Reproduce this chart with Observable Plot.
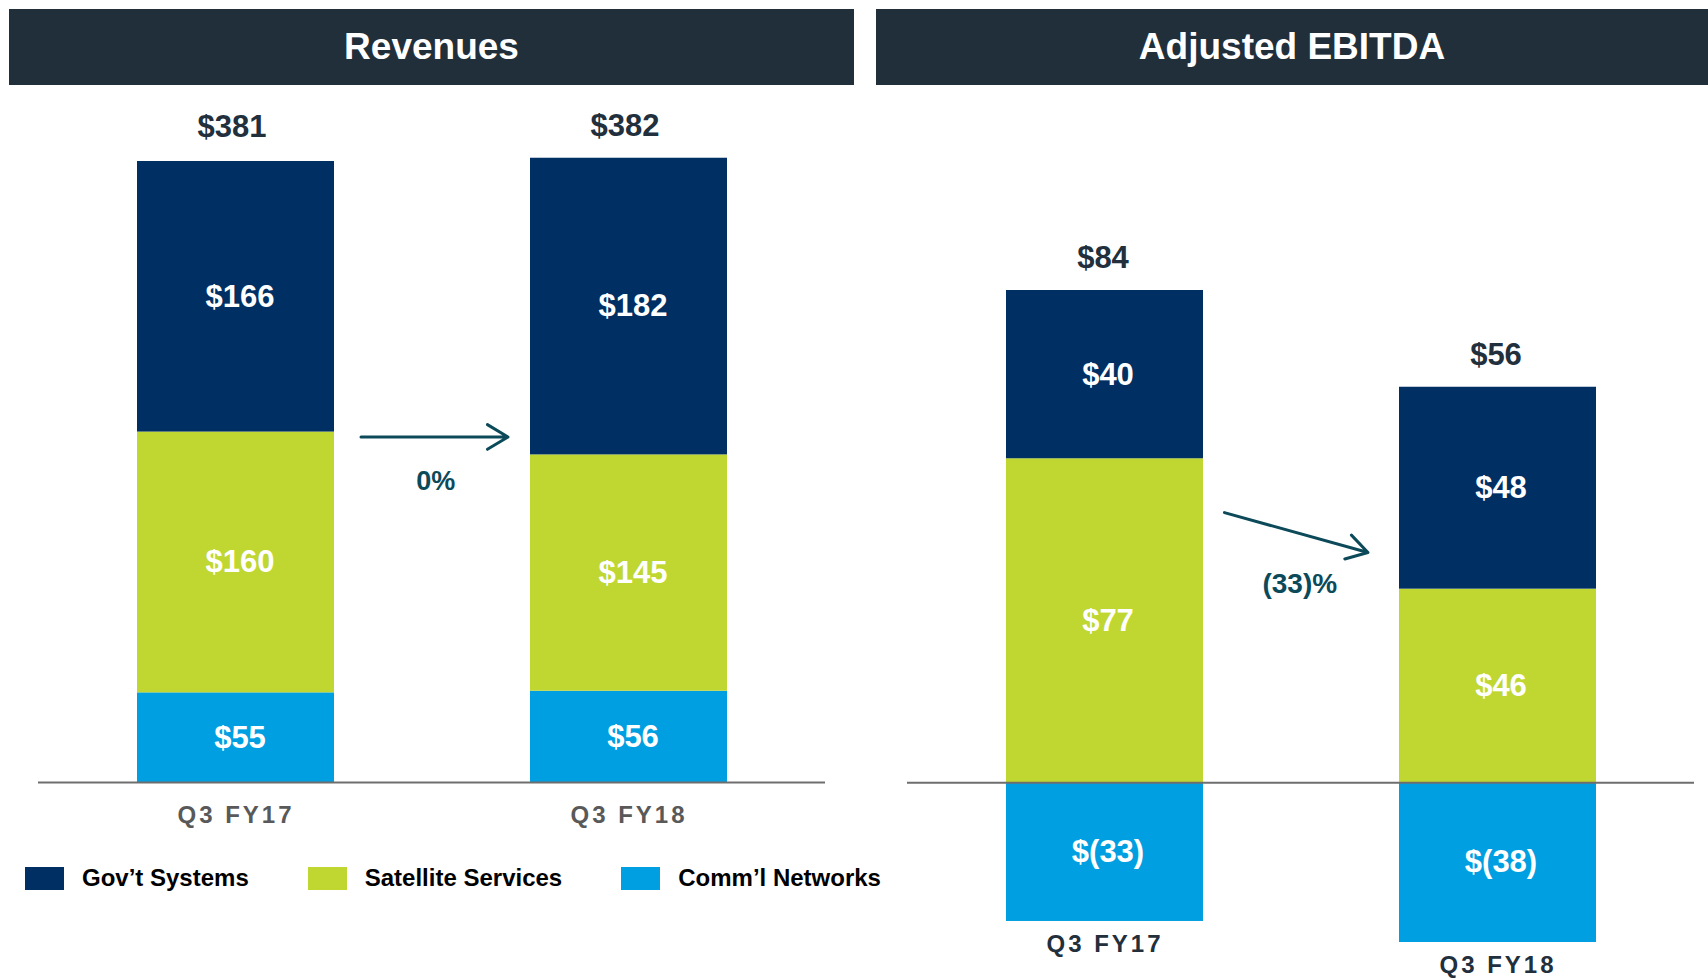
<!DOCTYPE html>
<html>
<head>
<meta charset="utf-8">
<script src="https://cdn.jsdelivr.net/npm/d3@7"></script>
<script src="https://cdn.jsdelivr.net/npm/@observablehq/plot@0.6"></script>
<style>
  body { margin: 0; background: #fff; font-family: "Liberation Sans", Arial, Helvetica, sans-serif; }
  #page { position: relative; width: 1708px; height: 978px; overflow: hidden; background: #fff; }
  .hdr { position: absolute; top: 9px; height: 76px; background: #212f3b; color: #fff; font-weight: bold;
         font-size: 37px; display: flex; align-items: center; justify-content: center; }
  #left { position: absolute; left: 0; top: 90px; }
  #right { position: absolute; left: 876px; top: 90px; }
  #legend { position: absolute; left: 25px; top: 864px; display: flex; align-items: center; }
  .item { display: flex; align-items: center; margin-right: 59px; font-weight: bold; font-size: 24px; color: #000; }
  .sw { width: 39px; height: 23px; margin-right: 18px; }
  g[aria-label="x-axis tick label"] text { letter-spacing: 3px; }
</style>
</head>
<body>
<div id="page">
  <div class="hdr" style="left:9px;width:845px;">Revenues</div>
  <div class="hdr" style="left:876px;width:832px;">Adjusted EBITDA</div>
  <div id="left"></div>
  <div id="right"></div>
  <div id="legend"></div>
</div>
<script>
// ---- data ----
const categories = ["Q3 FY17", "Q3 FY18"];
const series = ["Gov’t Systems", "Satellite Services", "Comm’l Networks"];
const seriesColors = ["#002f63", "#bfd730", "#009fe1"];

const revGov = [166, 182];
const revSat = [160, 145];
const revComm = [55, 56];
const revTotals = [381, 382];

const ebGov = [40, 48];
const ebSat = [77, 46];
const ebComm = [-33, -38];
const ebTotals = [84, 56];

const changeLabels = ["0%", "(33)%"];

// ---- helpers ----
const fmt = v => v < 0 ? `$(${-v})` : `$${v}`;
const rowsFrom = (gov, sat, comm) => categories.flatMap((c, i) => [
  {cat: c, series: series[2], value: comm[i]},
  {cat: c, series: series[1], value: sat[i]},
  {cat: c, series: series[0], value: gov[i]}
]);
const font = "'Liberation Sans', Arial, Helvetica, sans-serif";
const teal = "#0c4a5a";
const dark = "#222f3c";

// ---- Revenues ----
const revRows = rowsFrom(revGov, revSat, revComm);
const L = {w: 854, h: 750, mt: 71, mb: 58, ml: 38, mr: 29};
const Lstep = (L.w - L.ml - L.mr) / 2;
const left = Plot.plot({
  width: L.w, height: L.h, marginTop: L.mt, marginBottom: L.mb, marginLeft: L.ml, marginRight: L.mr,
  style: {fontFamily: font, background: "transparent", overflow: "visible"},
  x: {domain: categories, paddingInner: 0.5, paddingOuter: 0.25, label: null},
  y: {domain: [0, revTotals[0]], axis: null},
  color: {domain: series, range: seriesColors},
  marks: [
    Plot.barY(revRows, Plot.stackY({x: "cat", y: "value", fill: "series", z: "series"})),
    Plot.text(revRows, Plot.stackY({x: "cat", y: "value", z: "series", text: d => fmt(d.value),
      fill: "white", fontSize: 31, fontWeight: "bold", dx: 4})),
    Plot.text(categories, {x: d => d, y: (d, i) => revTotals[i], text: (d, i) => fmt(revTotals[i]),
      dy: -34, dx: -4, fill: dark, fontSize: 31, fontWeight: "bold"}),
    Plot.ruleY([0], {stroke: "#6e6e6e", strokeWidth: 2}),
    Plot.axisX({tickSize: 0, tickPadding: 23, fontSize: 24, fontWeight: "bold", color: "#595959", label: null}),
    Plot.arrow([{a: categories[0], b: categories[1], y: 212}], {
      x1: "a", x2: "b", y1: "y", y2: "y", insetStart: 125, insetEnd: 121,
      stroke: teal, strokeWidth: 3, headLength: 12, headAngle: 62}),
    Plot.text([changeLabels[0]], {x: () => categories[0], y: () => 185, text: d => d, dx: Lstep / 2 + 3,
      fill: teal, fontSize: 27, fontWeight: "bold"})
  ]
});
document.getElementById("left").append(left);

// ---- Adjusted EBITDA ----
const ebRows = rowsFrom(ebGov, ebSat, ebComm);
const R = {w: 832, h: 888, mt: 200, mb: 36, ml: 31, mr: 14};
const Rstep = (R.w - R.ml - R.mr) / 2;
const posTop = categories.map((c, i) => ebGov[i] + ebSat[i]);
const right = Plot.plot({
  width: R.w, height: R.h, marginTop: R.mt, marginBottom: R.mb, marginLeft: R.ml, marginRight: R.mr,
  style: {fontFamily: font, background: "transparent", overflow: "visible"},
  x: {domain: categories, paddingInner: 0.5, paddingOuter: 0.25, axis: null},
  y: {domain: [d3.min(ebComm), d3.max(posTop)], axis: null},
  color: {domain: series, range: seriesColors},
  marks: [
    Plot.barY(ebRows, Plot.stackY({x: "cat", y: "value", fill: "series", z: "series"})),
    Plot.text(ebRows, Plot.stackY({x: "cat", y: "value", z: "series", text: d => fmt(d.value),
      fill: "white", fontSize: 31, fontWeight: "bold", dx: 3})),
    Plot.text(categories, {x: d => d, y: (d, i) => posTop[i], text: (d, i) => fmt(ebTotals[i]),
      dy: -32, dx: -2, fill: dark, fontSize: 31, fontWeight: "bold"}),
    Plot.ruleY([0], {stroke: "#6e6e6e", strokeWidth: 2}),
    Plot.text(categories, {x: d => d, y: (d, i) => ebComm[i], text: d => d, dy: 23,
      fill: dark, fontSize: 24, fontWeight: "bold"}),
    Plot.arrow([{a: categories[0], b: categories[1], y1: 72.1, y2: 46.1}], {
      x1: "a", x2: "b", y1: "y1", y2: "y2", insetStart: 124, insetEnd: 135,
      stroke: teal, strokeWidth: 3, headLength: 12, headAngle: 62}),
    Plot.text([changeLabels[1]], {x: () => categories[0], y: () => 47.3, text: d => d, dx: Rstep / 2 - 2,
      fill: teal, fontSize: 28, fontWeight: "bold"})
  ]
});
right.querySelectorAll("text").forEach(t => {
  if (categories.includes(t.textContent)) t.style.letterSpacing = "3px";
});
document.getElementById("right").append(right);

// ---- legend ----
const legend = document.getElementById("legend");
series.forEach((s, i) => {
  const item = document.createElement("div");
  item.className = "item";
  const sw = document.createElement("div");
  sw.className = "sw";
  sw.style.background = seriesColors[i];
  const label = document.createElement("span");
  label.textContent = s;
  item.append(sw, label);
  legend.append(item);
});
</script>
</body>
</html>
